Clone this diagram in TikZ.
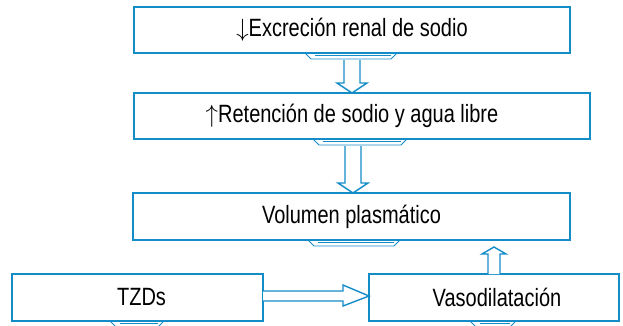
\documentclass[tikz,border=0pt]{standalone}
\usepackage{fontspec}
\setmainfont{Liberation Sans}[FakeStretch=0.8]
\usetikzlibrary{calc}
\definecolor{bblue}{RGB}{20,140,200}
\tikzset{
  box/.style={draw=bblue, line width=2pt, fill=white, minimum height=46pt, inner sep=0pt, outer sep=0pt,
    font=\fontsize{25}{28}\selectfont, text=black},
  barrow/.style={draw=bblue, line width=1.4pt, fill=white, line join=miter},
  tabthin/.style={draw=bblue, line width=0.9pt},
  tabthick/.style={draw=bblue, line width=1.6pt}
}
\newcommand{\boxtab}[3]{% node, x-offset of center, half width
  \draw[tabthin] ($(#1.south)+(#2pt-#3pt,0)$) -- ++(6pt,-6pt) -- ($(#1.south)+(#2pt+#3pt-6pt,-6pt)$) -- ($(#1.south)+(#2pt+#3pt,0)$);
  \draw[tabthick] ($(#1.south)+(#2pt-#3pt+10pt,-2.5pt)$) -- ($(#1.south)+(#2pt+#3pt-6pt,-2.5pt)$);
}
\begin{document}
\begin{tikzpicture}[x=1pt,y=1pt]
\useasboundingbox (0,0) rectangle (623,325);
\fill[white] (0,0) rectangle (623,325);

\node[box, minimum width=436pt] (b1) at (352,295) {$\downarrow$Excreción renal de sodio};
\node[box, minimum width=456pt, minimum height=46pt,
  label={[font=\fontsize{25}{28}\selectfont, xshift=-10pt]center:$\uparrow$Retención de sodio y agua libre}] (b2) at (362,209) {};
\node[box, minimum width=437pt, minimum height=47pt] (b3) at (351.5,108.5) {Volumen plasmático};
\node[box, minimum width=251pt, minimum height=47pt] (b4) at (137.5,27.5) {\hspace*{8pt}TZDs};
\node[box, minimum width=250pt, minimum height=47pt] (b5) at (494,27.5) {\hspace*{6pt}Vasodilatación};

% tabs under boxes
\boxtab{b1}{-1}{46}
\boxtab{b2}{-2}{47}
\boxtab{b3}{2.5}{46}
\boxtab{b4}{-0.5}{27}
\boxtab{b5}{-1}{23}

% block arrows
\draw[barrow] let \p1=(b1.south), \p2=(b2.north) in
  (\x1-8pt,\y1-7pt) -- (\x1-8pt,\y2+10pt) -- (\x1-15pt,\y2+10pt) -- (\x1,\y2) -- (\x1+15pt,\y2+10pt) -- (\x1+8pt,\y2+10pt) -- (\x1+8pt,\y1-7pt);
\draw[barrow] let \p1=($(b2.south)+(-9pt,0)$), \p2=(b3.north) in
  (\x1-8pt,\y1-7pt) -- (\x1-8pt,\y2+10pt) -- (\x1-15pt,\y2+10pt) -- (\x1,\y2) -- (\x1+15pt,\y2+10pt) -- (\x1+8pt,\y2+10pt) -- (\x1+8pt,\y1-7pt);
\draw[barrow] let \p1=(b5.north), \p2=(b3.south) in
  (\x1-6pt,\y1) -- (\x1-6pt,\y2-14pt) -- (\x1-12pt,\y2-14pt) -- (\x1,\y2-7pt) -- (\x1+12pt,\y2-14pt) -- (\x1+6pt,\y2-14pt) -- (\x1+6pt,\y1);
\draw[barrow] let \p1=(b4.east), \p2=(b5.west) in
  (\x1,\y1+6.5pt) -- (\x2-26pt,\y1+6.5pt) -- (\x2-26pt,\y1+12.5pt) -- (\x2,\y1+1.5pt) -- (\x2-26pt,\y1-8.5pt) -- (\x2-26pt,\y1-3.5pt) -- (\x1,\y1-3.5pt);
\end{tikzpicture}
\end{document}
